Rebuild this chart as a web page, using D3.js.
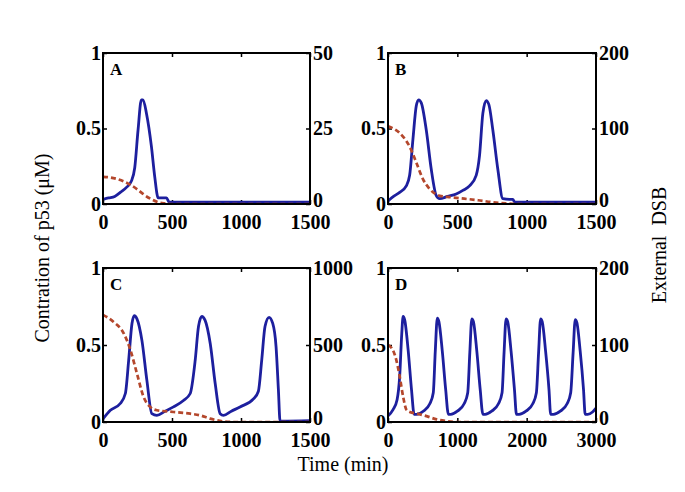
<!DOCTYPE html>
<html><head><meta charset="utf-8">
<script src="https://cdn.jsdelivr.net/npm/d3@7"></script>
<style>body{margin:0;background:#fff}svg{display:block}</style>
</head><body><svg id="c" width="685" height="492"></svg>
<script>
// ---- data ----
const panelLabels = ["A", "B", "C", "D"];
const xMax = [1500, 1500, 1500, 3000];
const xTicksAll = [[0, 500, 1000, 1500], [0, 500, 1000, 1500], [0, 500, 1000, 1500], [0, 1000, 2000, 3000]];
const leftTicks = [0, 0.5, 1];
const leftTickLabels = ["0", "0.5", "1"];
const rightMax = [50, 200, 1000, 200];
const rightTicksAll = [[0, 25, 50], [0, 100, 200], [0, 500, 1000], [0, 100, 200]];

// p53 concentration (left axis), [time, value]
const p53A = [[0,0.03],[40,0.04],[85,0.05],[130,0.08],[170,0.11],[205,0.15],[230,0.24],[254,0.49],[278,0.69],[290,0.69],[315,0.6],[351,0.38],[375,0.18],[400,0.04],[430,0.04],[460,0.04],[480,0.012],[600,0.012],[1000,0.012],[1500,0.012]];
const p53B = [[0,0.02],[40,0.05],[84,0.077],[132,0.12],[156,0.19],[180,0.43],[204,0.65],[221,0.69],[240,0.67],[276,0.49],[312,0.23],[348,0.055],[372,0.035],[430,0.05],[492,0.066],[540,0.09],[588,0.12],[636,0.19],[660,0.32],[684,0.6],[708,0.685],[727,0.66],[756,0.49],[792,0.23],[828,0.035],[876,0.03],[900,0.03],[915,0.012],[1000,0.012],[1500,0.012]];
const p53C = [[0,0.02],[53,0.076],[125,0.12],[162,0.185],[186,0.4],[210,0.64],[227,0.69],[246,0.67],[282,0.53],[318,0.27],[354,0.054],[390,0.043],[450,0.07],[511,0.098],[583,0.14],[632,0.185],[668,0.4],[692,0.62],[716,0.685],[740,0.66],[777,0.51],[813,0.25],[849,0.054],[873,0.043],[930,0.07],[993,0.098],[1090,0.15],[1126,0.2],[1150,0.4],[1174,0.62],[1203,0.68],[1230,0.64],[1254,0.49],[1271,0.21],[1283,0.006],[1300,0.005],[1500,0.008]];
const p53D = [[0,0.04],[73,0.08],[131,0.145],[169,0.3],[198,0.57],[218,0.685],[242,0.66],[290,0.47],[339,0.21],[377,0.05],[411,0.05],[508,0.07],[605,0.12],[653,0.19],[682,0.46],[711,0.675],[735,0.65],[783,0.46],[832,0.21],[871,0.05],[905,0.05],[1000,0.07],[1100,0.12],[1150,0.19],[1180,0.45],[1209,0.67],[1233,0.65],[1281,0.46],[1330,0.21],[1369,0.05],[1400,0.05],[1495,0.07],[1595,0.12],[1645,0.19],[1674,0.45],[1703,0.67],[1727,0.65],[1775,0.46],[1824,0.21],[1853,0.05],[1890,0.05],[1990,0.07],[2090,0.12],[2140,0.19],[2172,0.45],[2201,0.67],[2225,0.65],[2273,0.46],[2322,0.21],[2346,0.05],[2385,0.05],[2485,0.07],[2585,0.12],[2635,0.19],[2670,0.45],[2700,0.665],[2724,0.645],[2772,0.46],[2820,0.21],[2844,0.05],[2880,0.05],[2950,0.065],[3000,0.09]];

// external DSB (right axis), [time, value]
const dsbA = [[0,9],[50,8.8],[100,8.3],[150,7.5],[200,6.3],[250,4.8],[300,3.0],[350,1.6],[400,0.6],[450,0.2],[500,0],[1500,0]];
const dsbB = [[0,103],[84,94],[156,76],[204,55],[252,33],[300,20],[372,11],[450,9],[550,7],[650,5],[750,2.5],[850,0.8],[950,0],[1500,0]];
const dsbC = [[0,696],[77,650],[150,576],[198,470],[246,315],[294,163],[342,98],[390,76],[450,70],[511,65],[632,54],[704,43],[776,22],[873,4],[950,0],[1500,0]];
const dsbD = [[0,100],[73,93],[121,80],[169,59],[218,33],[266,16],[315,13],[411,11],[556,7.6],[701,3.4],[847,1.2],[1000,0],[3000,0]];

const p53Series = [p53A, p53B, p53C, p53D];
const dsbSeries = [dsbA, dsbB, dsbC, dsbD];

const yTitle = "Contration of p53 (\u03bcM)";
const y2Title = "External\u00a0\u00a0DSB";
const xTitle = "Time (min)";

// ---- layout ----
const boxes = [
  {x0: 103, x1: 310, y0: 53, y1: 204},
  {x0: 388, x1: 596, y0: 53, y1: 204},
  {x0: 103, x1: 310, y0: 268, y1: 422},
  {x0: 388, x1: 596, y0: 268, y1: 422}
];
const serif = "'Liberation Serif','Times New Roman',serif";
const blue = "#1d1f9e";
const red = "#b4472c";

const svg = d3.select("#c");
svg.append("rect").attr("width", 685).attr("height", 492).attr("fill", "#fff");

boxes.forEach((b, i) => {
  const x = d3.scaleLinear().domain([0, xMax[i]]).range([b.x0, b.x1]);
  const yL = d3.scaleLinear().domain([0, 1]).range([b.y1, b.y0]);
  const yR = d3.scaleLinear().domain([0, rightMax[i]]).range([b.y1, b.y0]);
  const g = svg.append("g");

  const clipId = "clip" + i;
  svg.append("defs").append("clipPath").attr("id", clipId)
    .append("rect").attr("x", b.x0).attr("y", b.y0 - 2).attr("width", b.x1 - b.x0).attr("height", b.y1 - b.y0 + 2);

  const styleAxis = sel => {
    sel.select(".domain").remove();
    sel.selectAll(".tick line").attr("stroke", "#000").attr("stroke-width", 1.5);
    sel.selectAll("text").attr("font-family", serif).attr("font-weight", "bold")
      .attr("font-size", 20).attr("fill", "#000");
  };

  g.append("g").attr("transform", `translate(0,${b.y1})`)
    .call(d3.axisBottom(x).tickValues(xTicksAll[i]).tickFormat(d3.format("d")).tickSizeInner(-4).tickSizeOuter(0).tickPadding(11))
    .call(styleAxis);
  g.append("g").attr("transform", `translate(0,${b.y0})`)
    .call(d3.axisTop(x).tickValues(xTicksAll[i]).tickFormat("").tickSizeInner(-4).tickSizeOuter(0))
    .call(styleAxis);
  g.append("g").attr("transform", `translate(${b.x0},0)`)
    .call(d3.axisLeft(yL).tickValues(leftTicks).tickFormat((d, k) => leftTickLabels[k]).tickSizeInner(-4).tickSizeOuter(0).tickPadding(2))
    .call(styleAxis);
  const rAx = g.append("g").attr("transform", `translate(${b.x1},0)`)
    .call(d3.axisRight(yR).tickValues(rightTicksAll[i]).tickFormat(d3.format("d")).tickSizeInner(-4).tickSizeOuter(0).tickPadding(3))
    .call(styleAxis);
  rAx.selectAll(".tick text").filter(d => d === 0).attr("dy", "0.1em");

  const lineL = d3.line().x(d => x(d[0])).y(d => yL(d[1])).curve(d3.curveMonotoneX);
  const lineR = d3.line().x(d => x(d[0])).y(d => yR(d[1])).curve(d3.curveMonotoneX);

  const lg = g.append("g").attr("clip-path", `url(#${clipId})`);
  lg.append("path").datum(p53Series[i]).attr("d", lineL)
    .attr("fill", "none").attr("stroke", blue).attr("stroke-width", 2.8).attr("stroke-linejoin", "round");
  lg.append("path").datum(dsbSeries[i]).attr("d", lineR)
    .attr("fill", "none").attr("stroke", red).attr("stroke-width", 2.7).attr("stroke-dasharray", "5,3");

  g.append("rect").attr("x", b.x0).attr("y", b.y0).attr("width", b.x1 - b.x0).attr("height", b.y1 - b.y0)
    .attr("fill", "none").attr("stroke", "#000").attr("stroke-width", 2);

  g.append("text").attr("x", b.x0 + 7).attr("y", b.y0 + 22).text(panelLabels[i])
    .attr("font-family", serif).attr("font-weight", "bold").attr("font-size", 17);
});

svg.append("text").attr("transform", "translate(49,248) rotate(-90)").attr("text-anchor", "middle")
  .attr("font-family", serif).attr("font-size", 20).text(yTitle);
svg.append("text").attr("transform", "translate(666,245) rotate(-90)").attr("text-anchor", "middle")
  .attr("font-family", serif).attr("font-size", 20).text(y2Title);
svg.append("text").attr("x", 343).attr("y", 471).attr("text-anchor", "middle")
  .attr("font-family", serif).attr("font-size", 20).text(xTitle);
</script></body></html>
